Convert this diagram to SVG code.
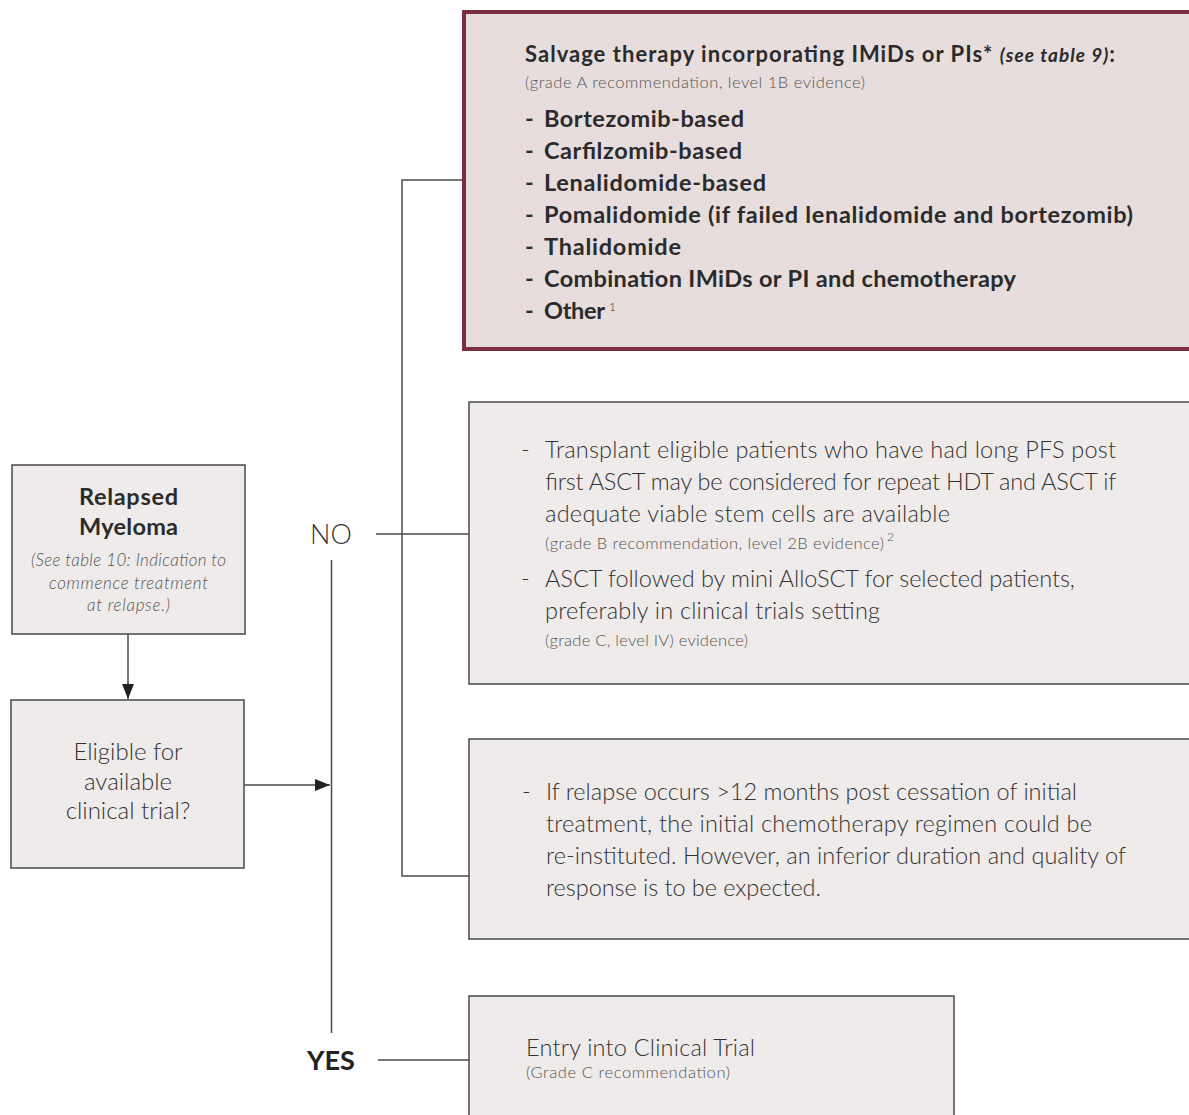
<svg xmlns="http://www.w3.org/2000/svg" width="1189" height="1115" viewBox="0 0 1189 1115">
<style>
.box{fill:#efebea;stroke:#4a4a4a;stroke-width:1.5}
.hl{fill:#e7dddd;stroke:#7b2d43;stroke-width:4}
.ln{fill:none;stroke:#4a4a4a;stroke-width:1.5}
text{font-family:"Source Sans Pro","Lato","Open Sans",sans-serif;fill:#333}
.lt{font-weight:300;font-size:23.5px}
.sm{font-weight:300;font-size:16.5px;fill:#555}
.bd{font-weight:700;font-size:23.5px;fill:#2b2b2b}
.it{font-style:italic;font-weight:300;font-size:17px;fill:#555}
</style>
<defs>
<marker id="ah" viewBox="0 0 15 12" refX="15" refY="6" markerWidth="15" markerHeight="12" markerUnits="userSpaceOnUse" orient="auto">
<path d="M0,0 L15,6 L0,12 z" fill="#222"/>
</marker>
</defs>
<g id="connectors">
<line class="ln" x1="128" y1="634" x2="128" y2="699" marker-end="url(#ah)"/>
<line class="ln" x1="244" y1="785" x2="330" y2="785" marker-end="url(#ah)"/>
<line class="ln" x1="331.5" y1="560" x2="331.5" y2="1033"/>
<line class="ln" x1="376" y1="534" x2="469" y2="534"/>
<polyline class="ln" points="463,180 402,180 402,876 469,876"/>
<line class="ln" x1="378" y1="1060" x2="469" y2="1060"/>
</g>
<g id="label-no"><text x="331" y="544" text-anchor="middle" style="font-weight:300;font-size:27px">NO</text></g>
<g id="label-yes"><text x="331" y="1070" text-anchor="middle" style="font-weight:700;font-size:27px;fill:#222">YES</text></g>
<g id="relapsed">
<rect class="box" x="12" y="465" width="233" height="169"/>
<text class="bd" x="128.5" y="505" text-anchor="middle" textLength="99">Relapsed</text>
<text class="bd" x="128.5" y="535" text-anchor="middle" textLength="99">Myeloma</text>
<text class="it" x="128.5" y="566" text-anchor="middle" textLength="195">(See table 10: Indication to</text>
<text class="it" x="128.5" y="589" text-anchor="middle" textLength="159">commence treatment</text>
<text class="it" x="128.5" y="611" text-anchor="middle" textLength="83">at relapse.)</text>
</g>
<g id="eligible">
<rect class="box" x="11" y="700" width="233" height="168"/>
<text class="lt" x="128" y="760" text-anchor="middle" style="font-size:24px">Eligible for</text>
<text class="lt" x="128" y="790" text-anchor="middle" style="font-size:24px">available</text>
<text class="lt" x="128" y="819" text-anchor="middle" style="font-size:24px">clinical trial?</text>
</g>
<g id="salvage">
<rect class="hl" x="464" y="12" width="740" height="337"/>
<text x="525" y="62" style="font-weight:700;font-size:22px;fill:#2b2b2b" textLength="590">Salvage therapy incorporating IMiDs or PIs* <tspan style="font-style:italic;font-size:19px">(see table 9)</tspan>:</text>
<text class="sm" x="525" y="88" textLength="340">(grade A recommendation, level 1B evidence)</text>
<text class="bd" x="525" y="127">-</text><text class="bd" x="544" y="127" textLength="200">Bortezomib-based</text>
<text class="bd" x="525" y="159">-</text><text class="bd" x="544" y="159" textLength="198">Carfilzomib-based</text>
<text class="bd" x="525" y="191">-</text><text class="bd" x="544" y="191" textLength="222">Lenalidomide-based</text>
<text class="bd" x="525" y="223">-</text><text class="bd" x="544" y="223" textLength="589">Pomalidomide (if failed lenalidomide and bortezomib)</text>
<text class="bd" x="525" y="255">-</text><text class="bd" x="544" y="255" textLength="137">Thalidomide</text>
<text class="bd" x="525" y="287">-</text><text class="bd" x="544" y="287" textLength="472">Combination IMiDs or PI and chemotherapy</text>
<text class="bd" x="525" y="319">-</text><text class="bd" x="544" y="319" textLength="61">Other</text>
<text x="609" y="311" style="font-weight:300;font-size:12px;fill:#333">1</text>
</g>
<g id="transplant">
<rect class="box" x="469" y="402" width="735" height="282"/>
<text class="lt" x="521" y="458">-</text>
<text class="lt" x="545" y="458" textLength="571">Transplant eligible patients who have had long PFS post</text>
<text class="lt" x="545" y="490" textLength="571">first ASCT may be considered for repeat HDT and ASCT if</text>
<text class="lt" x="545" y="522" textLength="405">adequate viable stem cells are available</text>
<text class="sm" x="545" y="549" textLength="339">(grade B recommendation, level 2B evidence)</text>
<text x="887" y="541" style="font-weight:300;font-size:12px;fill:#555">2</text>
<text class="lt" x="521" y="587">-</text>
<text class="lt" x="545" y="587" textLength="530">ASCT followed by mini AlloSCT for selected patients,</text>
<text class="lt" x="545" y="619" textLength="335">preferably in clinical trials setting</text>
<text class="sm" x="545" y="646" textLength="203">(grade C, level IV) evidence)</text>
</g>
<g id="reinstitute">
<rect class="box" x="469" y="739" width="735" height="200"/>
<text class="lt" x="522" y="800">-</text>
<text class="lt" x="546" y="800" textLength="531">If relapse occurs &gt;12 months post cessation of initial</text>
<text class="lt" x="546" y="832" textLength="546">treatment, the initial chemotherapy regimen could be</text>
<text class="lt" x="546" y="864" textLength="580">re-instituted. However, an inferior duration and quality of</text>
<text class="lt" x="546" y="896" textLength="275">response is to be expected.</text>
</g>
<g id="trial">
<rect class="box" x="469" y="996" width="485" height="140"/>
<text class="lt" x="526" y="1056" textLength="229">Entry into Clinical Trial</text>
<text class="sm" x="526" y="1078" textLength="204">(Grade C recommendation)</text>
</g>
</svg>
